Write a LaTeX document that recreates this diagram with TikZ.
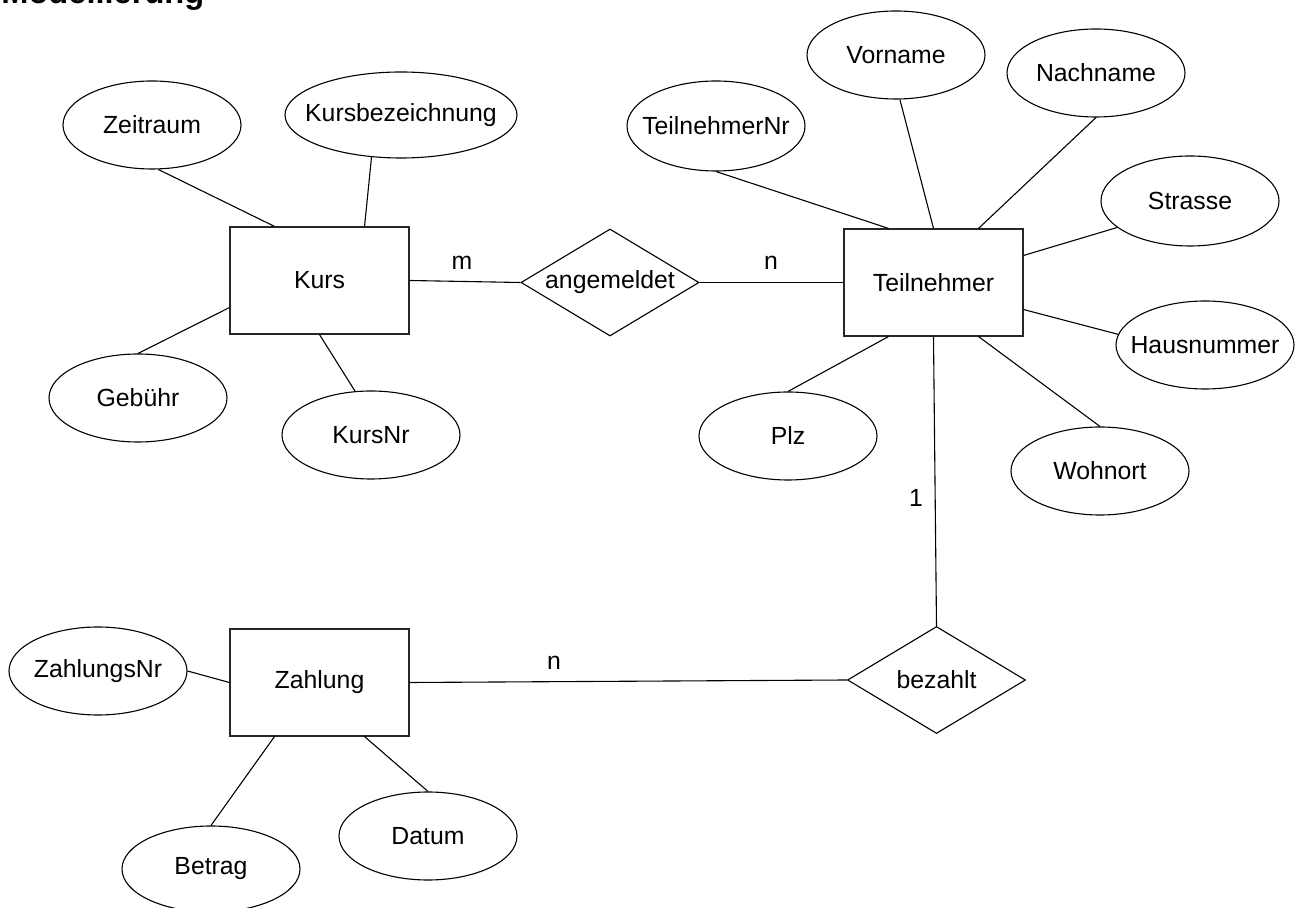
\documentclass[tikz,border=0pt]{standalone}
\usepackage{fontspec}
\setmainfont{Liberation Sans}
\usetikzlibrary{shapes.geometric,calc}
\newcommand\mkclap[1]{\makebox[0pt][c]{#1}}
\tikzset{
  every node/.style={font=\fontsize{12.4pt}{14pt}\selectfont},
  lnk/.style={line width=0.55pt, draw=black},
  entity/.style={draw=black!85, line width=0.6pt, rectangle, minimum width=89.5pt, minimum height=53.5pt, inner sep=0pt},
  attr/.style={draw=black, line width=0.55pt, ellipse, minimum width=89pt, minimum height=44pt, inner sep=0pt},
  rel/.style={draw=black, line width=0.55pt, diamond, minimum width=89pt, minimum height=53.5pt, inner sep=0pt, aspect=1.66},
  card/.style={inner sep=0pt}
}
\begin{document}
\begin{tikzpicture}[x=0.5pt,y=-0.5pt]
\useasboundingbox (0,0) rectangle (1302,908);
% title
\node[anchor=base west, inner sep=0pt, font=\fontsize{16.3pt}{18pt}\selectfont\bfseries] (title) at (1,4) {Modellierung};
% entities
\node[entity] (kurs) at (319.5,280.5) {Kurs};
\node[entity] (tn) at (933.5,282.5) {Teilnehmer};
\node[entity] (zah) at (319.5,682.5) {Zahlung};
% relationships
\node[rel] (ang) at (610,282.5) {angemeldet};
\node[rel] (bz) at (936.5,680) {bezahlt};
% attributes
\node[attr] (zeit) at (152,125) {\mkclap{Zeitraum}};
\node[attr, minimum width=116pt, minimum height=43pt] (kb) at (401,115) {\mkclap{Kursbezeichnung}};
\node[attr] (geb) at (138,398) {\mkclap{Gebühr}};
\node[attr] (kn) at (371,435) {\mkclap{KursNr}};
\node[attr, minimum height=45pt] (tnr) at (716,126) {\mkclap{TeilnehmerNr}};
\node[attr] (vn) at (896,55) {\mkclap{Vorname}};
\node[attr] (nn) at (1096,73) {\mkclap{Nachname}};
\node[attr, minimum height=45pt] (st) at (1190,201) {\mkclap{Strasse}};
\node[attr] (hn) at (1205,345) {\mkclap{Hausnummer}};
\node[attr] (plz) at (788,436) {\mkclap{Plz}};
\node[attr] (wo) at (1100,471) {\mkclap{Wohnort}};
\node[attr] (zn) at (98,671) {\mkclap{ZahlungsNr}};
\node[attr, minimum height=43pt] (bet) at (211,869) {\mkclap{Betrag}};
\node[attr] (dat) at (428,836) {\mkclap{Datum}};
% cardinalities
\node[card] (cm) at (462,263) {m};
\node[card] (cn1) at (771,263) {n};
\node[card] (cn2) at (554,663) {n};
\node[card] (c1) at (916,498) {1};
% connectors: Kurs
\draw[lnk] (zeit.-82) -- ($(kurs.north west)!.25!(kurs.north east)$);
\draw[lnk] (kb.-125) -- ($(kurs.north west)!.75!(kurs.north east)$);
\draw[lnk] (geb.north) -- ($(kurs.north west)!.75!(kurs.south west)$);
\draw[lnk] (kn.110) -- (kurs.south);
\draw[lnk] (kurs.east) -- (ang.west);
\draw[lnk] (ang.east) -- (tn.west);
% connectors: Teilnehmer
\draw[lnk] (tnr.south) -- ($(tn.north west)!.25!(tn.north east)$);
\draw[lnk] (vn.-85) -- (tn.north);
\draw[lnk] (nn.south) -- ($(tn.north west)!.75!(tn.north east)$);
\draw[lnk] (st.200) -- ($(tn.north east)!.25!(tn.south east)$);
\draw[lnk] (hn.173) -- ($(tn.north east)!.75!(tn.south east)$);
\draw[lnk] (plz.north) -- ($(tn.south west)!.25!(tn.south east)$);
\draw[lnk] (wo.north) -- ($(tn.south west)!.75!(tn.south east)$);
\draw[lnk] (tn.south) -- (bz.north);
% connectors: Zahlung
\draw[lnk] (bz.west) -- (zah.east);
\draw[lnk] (zn.east) -- (zah.west);
\draw[lnk] (bet.north) -- ($(zah.south west)!.25!(zah.south east)$);
\draw[lnk] (dat.north) -- ($(zah.south west)!.75!(zah.south east)$);
\end{tikzpicture}
\end{document}
